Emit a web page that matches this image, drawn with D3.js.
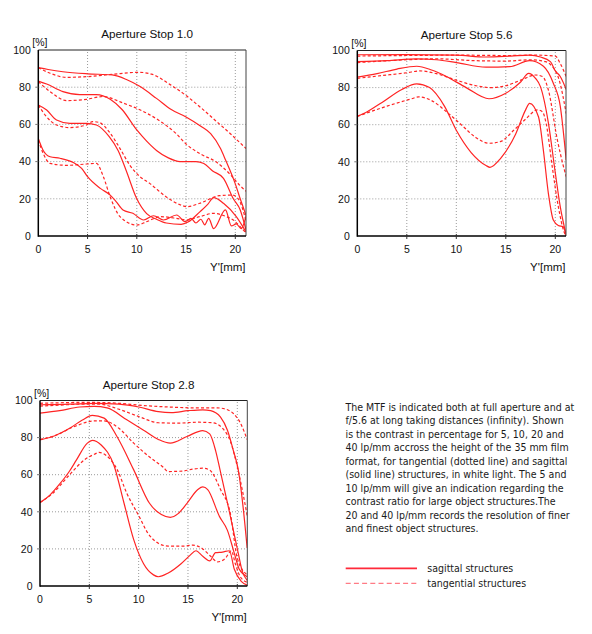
<!DOCTYPE html>
<html><head><meta charset="utf-8">
<script src="https://cdn.jsdelivr.net/npm/d3@7"></script>
<style>
html,body{margin:0;padding:0;background:#fff;}
svg{display:block;}
</style></head>
<body>
<svg id="c" width="592" height="634"></svg>
<script>
// ---------- data ----------
const xTicks = [0, 5, 10, 15, 20];
const yTicks = [0, 20, 40, 60, 80, 100];
const titles = ["Aperture Stop 1.0", "Aperture Stop 5.6", "Aperture Stop 2.8"];
const yUnit = "[%]";
const xUnit = "Y'[mm]";

// Aperture Stop 1.0  [Y' mm, contrast %]
const a10_sag5  = [[0,90.5],[1,89.5],[2.5,88.3],[5,87.2],[7.5,86.6],[9,84],[10.25,80.6],[12,74],[13.5,68],[15,64],[16.5,59],[17.5,55],[18.5,47],[19,41],[20,28],[20.5,20],[21.1,11]];
const a10_tan5  = [[0,90.5],[1.2,87.5],[2.9,85.3],[5,85.7],[7.6,87],[10.25,88],[11.5,87],[13.5,81],[15,75.5],[16.5,69],[18,62],[19.5,55],[20.5,50],[21.1,47]];
const a10_sag10 = [[0,83.3],[0.85,81.7],[2.5,77.6],[4.2,76],[5.9,76],[7.3,73.5],[8.5,68],[10,57],[11,51],[12,46],[13.2,42],[14.4,40],[16,40],[16.8,39],[17.7,35],[18.8,31],[19.8,20],[20.5,14],[21.1,3]];
const a10_tan10 = [[0,83],[1.2,77.6],[2.9,72.8],[4.9,73.5],[6.6,75],[8.6,71.5],[10.25,68],[12,63],[14,55],[15,49.5],[16.5,44],[18,40],[19.5,33],[20.5,27],[21.1,24]];
const a10_sag20 = [[0,70.4],[0.85,67.7],[1.85,62.4],[3.2,60.6],[4.9,60.6],[5.9,59.7],[7.2,53.4],[8.1,46],[8.9,35.5],[10,20],[11,12],[12,9],[13,7],[14.5,6.3],[15.2,7.5],[16.4,13],[17.2,17],[17.8,20.6],[18.8,17.6],[20.1,10.4],[21.1,2]];
const a10_tan20 = [[0,70.4],[0.7,65],[1.85,59.7],[3.2,58.3],[4.9,59.7],[5.5,61.5],[6.2,61],[7.2,56],[8.3,47],[9.3,38],[10.3,32],[11.3,28.3],[13,21],[14.3,17],[15.1,15.8],[16.4,17.6],[18.4,21.7],[19.7,22],[20.3,20],[21.1,8]];
const a10_sag40 = [[0,52.5],[0.5,46],[1.2,42.6],[2.2,41.8],[3.6,39.4],[4.4,36.4],[5,31.9],[6.3,25.6],[7.3,22],[7.9,18.5],[8.6,14],[9.6,12.2],[10.7,8.6],[11.7,10.9],[12.7,8.6],[14.05,11.3],[14.9,7.7],[15.5,9.5],[16,7],[16.5,9],[16.9,6],[17.3,9.5],[17.8,4],[19,14],[19.6,5.4],[20.1,6.5],[20.6,4],[21.1,11]];
const a10_tan40 = [[0,51.6],[0.5,44.4],[1.2,39],[2.9,38],[4.9,38.7],[5.9,39],[6.6,32],[7.3,21],[8.3,10.4],[10,5.9],[11,7.7],[12.4,10.4],[14,9.5],[15,8.6],[16.4,10.4],[17.8,12.2],[19.1,10.4],[19.8,8.6],[20.5,5],[21.1,1.5]];

// Aperture Stop 5.6
const a56_sag5  = [[0,97.7],[5,97.8],[10,97.5],[13,96.5],[15.5,97],[17.4,97.5],[18.5,96.5],[19.5,94],[20,89],[20.5,86],[21.1,79]];
const a56_tan5  = [[0,97],[5,97.3],[10,97.5],[15,97.3],[18,97.5],[20,97],[20.5,93],[21.1,86]];
const a56_sag10 = [[0,94],[3,94.5],[6,95.5],[8,95],[10,93.5],[13,91],[15.4,91.3],[17.4,94.5],[18.8,91.5],[19.8,82.3],[20.5,70],[21.1,41]];
const a56_tan10 = [[0,93.5],[5,95],[8,95.5],[12,94.5],[15,94.3],[17.5,95],[19,94],[19.5,92.5],[20.5,82],[21.1,66]];
const a56_sag20 = [[0,85.6],[2,87.5],[4,90],[6,91.5],[7.5,89.5],[9,86],[11,80],[13.3,74],[15,77],[16.5,83],[17.3,87.7],[18,85],[18.5,80.5],[19.3,61],[20,34],[20.5,15.8],[21.1,0.5]];
const a56_tan20 = [[0,85],[2.5,86.5],[5,88],[6.3,89],[8,87.5],[10,84],[12,81],[13.5,80],[15,81],[16.5,84],[18,86.8],[18.7,86],[19.3,78.7],[20.2,52],[20.8,38],[21.1,32]];
const a56_sag40 = [[0,64.5],[1,67],[2.5,72],[4.5,79],[6,82],[7.3,80],[8.8,70],[10,57],[11.5,45],[13,38],[13.4,37],[14.5,42],[16,55],[17,68],[17.4,71.5],[18.3,64.3],[18.8,46],[19.3,23],[19.8,8.6],[20.3,5.7],[20.8,5],[21.1,0]];
const a56_tan40 = [[0,64.5],[3,70],[5.5,74],[6.2,75],[7.5,73],[9,67],[10.5,60],[12,53],[13.3,50],[14.5,51],[15.8,57],[17,63],[18.2,68],[18.7,67],[19.1,60],[19.7,37],[20.3,16],[20.9,2],[21.1,0]];

// Aperture Stop 2.8
const a28_sag5  = [[0,97.7],[3,98],[5.5,98.5],[8,98],[10,96.5],[12,94],[13.3,93.5],[15,94.5],[16.5,95],[17.3,94.5],[18.3,91],[19,84],[19.6,73],[20.1,62.6],[20.6,42],[21,20.5]];
const a28_tan5  = [[0,98.5],[5,99],[8,98.5],[10,97.5],[13,96.5],[16,96],[18,96],[19,95],[19.6,93],[20.3,88],[21,79]];
const a28_sag10 = [[0,93.2],[2,94.5],[4,96.5],[5.5,96.8],[6.8,96],[8.8,89.6],[10.5,84],[12,79],[13.2,77],[14.9,80.6],[16.5,83.8],[17.2,82],[17.8,73],[18.25,62.6],[19.2,40],[20.1,17.6],[20.5,8],[21,3]];
const a28_tan10 = [[0,97],[2,97.5],[4,98],[6,98],[8,95.3],[10,91.4],[12,88],[14,87.8],[16,88.3],[17.5,88],[18.5,85],[19.3,78],[20.1,62],[21,38]];
const a28_sag20 = [[0,78.8],[1.5,81],[3,85],[4.3,89.5],[5.3,92],[6.5,90.5],[7.8,80.6],[9.5,62.6],[11.1,44.6],[12.3,38.5],[13.2,37],[14,39],[14.9,44.6],[16,52],[16.5,53.4],[17,52],[18.2,37.4],[19,30],[19.7,17.6],[20.2,9],[21,5]];
const a28_tan20 = [[0,79],[1.5,81],[3.5,86],[5.5,89],[6.5,89],[8,85],[9.5,77],[11,70],[12.5,64],[13,61.7],[14.5,62],[15.5,63],[16.5,63.5],[17.2,62.5],[18.3,52],[19.3,39],[20,15],[21,6]];
const a28_sag40 = [[0,45],[1,49],[2,55],[3,62],[3.7,68],[4.8,77],[5.3,78.5],[6.2,76],[7.5,65],[8.5,45],[9.5,25],[10.5,12],[11.5,6],[12,5],[13,7],[14.3,12],[15.2,16.5],[15.8,19],[16.5,16],[17.2,13.5],[17.8,18],[18.5,18.3],[19.2,19],[19.7,9],[20.4,2.5],[21,0.5]];
const a28_tan40 = [[0,45],[1.3,50],[3,60],[4.5,68],[5.5,71],[6,72],[6.8,70],[7.8,63],[8.8,50],[10,38],[11,28],[12,23],[13,21.5],[14.5,21.5],[15.5,22],[16.5,20],[17.3,16],[18,13],[18.8,15],[19.4,19],[19.8,12],[20.3,5],[21,2]];

const noteLines = [
  "The MTF is indicated both at full aperture and at",
  "f/5.6 at long taking distances (infinity). Shown",
  "is the contrast in percentage for 5, 10, 20 and",
  "40 lp/mm accross the height of the 35 mm film",
  "format, for tangential (dotted line) and sagittal",
  "(solid line) structures, in white light. The 5 and",
  "10 lp/mm will give an indication regarding the",
  "contrast ratio for large object structures.The",
  "20 and 40 lp/mm records the resolution of finer",
  "and finest object structures."
];
const legendLabels = ["sagittal structures", "tangential structures"];

// ---------- layout ----------
const RED = "#ff2424";
const svg = d3.select("#c");
const charts = [
  {title: titles[0], sag: [a10_sag5, a10_sag10, a10_sag20, a10_sag40], tan: [a10_tan5, a10_tan10, a10_tan20, a10_tan40],
   x0: 38.3, x20: 235.3, xr: 246, y100: 50, y0: 236},
  {title: titles[1], sag: [a56_sag5, a56_sag10, a56_sag20, a56_sag40], tan: [a56_tan5, a56_tan10, a56_tan20, a56_tan40],
   x0: 357.3, x20: 555.3, xr: 566, y100: 50.5, y0: 236},
  {title: titles[2], sag: [a28_sag5, a28_sag10, a28_sag20, a28_sag40], tan: [a28_tan5, a28_tan10, a28_tan20, a28_tan40],
   x0: 40, x20: 237.3, xr: 247.3, y100: 400.5, y0: 586}
];
const FONT = "'Liberation Sans', Arial, sans-serif";

charts.forEach((c, i) => {
  const x = d3.scaleLinear().domain([0, 20]).range([c.x0, c.x20]);
  const y = d3.scaleLinear().domain([0, 100]).range([c.y0, c.y100]);
  const g = svg.append("g");
  const clipId = "clip" + i;
  svg.append("clipPath").attr("id", clipId).append("rect")
    .attr("x", c.x0).attr("y", c.y100 - 2).attr("width", c.xr - c.x0).attr("height", c.y0 - c.y100 + 2);

  // grid
  g.selectAll(".gx").data(xTicks.filter(t => t > 0)).join("line")
    .attr("x1", d => x(d)).attr("x2", d => x(d)).attr("y1", c.y0).attr("y2", c.y100)
    .attr("stroke", "#9a9a9a").attr("stroke-width", 1).attr("stroke-dasharray", "1,2");
  g.selectAll(".gy").data(yTicks.filter(t => t > 0 && t < 100)).join("line")
    .attr("y1", d => y(d)).attr("y2", d => y(d)).attr("x1", c.x0).attr("x2", c.xr)
    .attr("stroke", "#9a9a9a").attr("stroke-width", 1).attr("stroke-dasharray", "1,2");

  // curves
  const line = d3.line().x(d => x(d[0])).y(d => y(d[1])).curve(d3.curveMonotoneX);
  const cg = g.append("g").attr("clip-path", `url(#${clipId})`);
  c.tan.forEach(s => cg.append("path").attr("d", line(s)).attr("fill", "none")
    .attr("stroke", RED).attr("stroke-width", 1.2).attr("stroke-dasharray", "3,2.2"));
  c.sag.forEach(s => cg.append("path").attr("d", line(s)).attr("fill", "none")
    .attr("stroke", RED).attr("stroke-width", 1.2));

  // frame
  g.append("line").attr("x1", c.x0).attr("x2", c.xr).attr("y1", c.y100).attr("y2", c.y100).attr("stroke", "#222").attr("stroke-width", 1);
  g.append("line").attr("x1", c.xr).attr("x2", c.xr).attr("y1", c.y100).attr("y2", c.y0).attr("stroke", "#444").attr("stroke-width", 1);
  g.append("line").attr("x1", c.x0).attr("x2", c.x0).attr("y1", c.y100).attr("y2", c.y0 + 0.75).attr("stroke", "#000").attr("stroke-width", 1.5);
  g.append("line").attr("x1", c.x0).attr("x2", c.xr).attr("y1", c.y0).attr("y2", c.y0).attr("stroke", "#000").attr("stroke-width", 1.5);

  // ticks
  g.selectAll(".tx").data(xTicks.filter(t => t > 0)).join("line")
    .attr("x1", d => x(d)).attr("x2", d => x(d)).attr("y1", c.y0 - 2).attr("y2", c.y0 + 3)
    .attr("stroke", "#333").attr("stroke-width", 1);
  g.selectAll(".ty").data(yTicks.filter(t => t > 0 && t < 100)).join("line")
    .attr("y1", d => y(d)).attr("y2", d => y(d)).attr("x1", c.x0 - 3).attr("x2", c.x0)
    .attr("stroke", "#777").attr("stroke-width", 1);

  // tick labels
  g.selectAll(".lx").data(xTicks).join("text")
    .attr("x", d => x(d)).attr("y", c.y0 + 17.3).attr("text-anchor", "middle")
    .attr("font-family", FONT).attr("font-size", 10.5).attr("fill", "#111").text(d => d);
  g.selectAll(".ly").data(yTicks).join("text")
    .attr("x", c.x0 - 7.5).attr("y", d => y(d)).attr("dy", "0.36em").attr("text-anchor", "end")
    .attr("font-family", FONT).attr("font-size", 10.5).attr("fill", "#111").text(d => d);

  // units & title
  g.append("text").attr("x", c.x0 - 6).attr("y", c.y100 - 4)
    .attr("font-family", FONT).attr("font-size", 10.5).attr("fill", "#111").text(yUnit);
  g.append("text").attr("x", c.xr - 0.5).attr("y", c.y0 + 35).attr("text-anchor", "end")
    .attr("font-family", FONT).attr("font-size", 11.5).attr("fill", "#111").text(xUnit);
  g.append("text").attr("x", (c.x0 + c.xr) / 2 + 5).attr("y", c.y100 - 12).attr("text-anchor", "middle")
    .attr("font-family", FONT).attr("font-size", 11.7).attr("fill", "#111").text(c.title);
});

// ---------- note text ----------
const NFONT = "'Liberation Sans Narrow', 'DejaVu Sans Condensed', Lato, sans-serif";
const note = svg.append("g");
const tx = 345.5, ty0 = 410.5, lh = 13.55;
const texts = note.selectAll("text").data(noteLines).join("text")
  .attr("x", tx).attr("y", (d, i) => ty0 + i * lh)
  .attr("font-family", NFONT).attr("font-size", 11).attr("fill", "#1a1a1a").text(d => d);
// calibrate size so the first line spans the reference width
const w0 = texts.node().getComputedTextLength();
const fs = Math.min(11.8, 11 * 229 / w0);
texts.attr("font-size", fs);

// ---------- legend ----------
const lg = svg.append("g");
lg.append("line").attr("x1", 345.7).attr("x2", 417).attr("y1", 568.3).attr("y2", 568.3)
  .attr("stroke", "#ff2a3a").attr("stroke-width", 1.8);
lg.append("line").attr("x1", 345.7).attr("x2", 417).attr("y1", 583.3).attr("y2", 583.3)
  .attr("stroke", "#ff7b85").attr("stroke-width", 1.2).attr("stroke-dasharray", "5,3.2");
lg.selectAll("text").data(legendLabels).join("text")
  .attr("x", 427.3).attr("y", (d, i) => 572 + i * 15)
  .attr("font-family", NFONT).attr("font-size", fs).attr("fill", "#1a1a1a").text(d => d);
</script>
</body></html>
